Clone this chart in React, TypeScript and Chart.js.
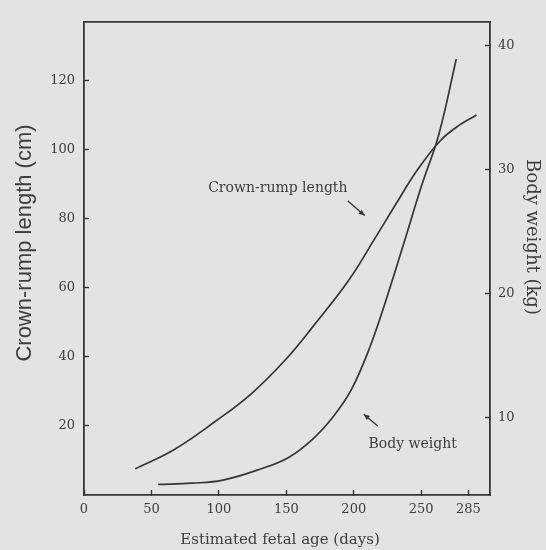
import React, { useEffect, useRef } from 'react';
import { Chart, registerables } from 'chart.js';

Chart.register(...registerables);

// ---- data ----
const xTicks = [0, 50, 100, 150, 200, 250, 285];
const leftTicks = [20, 40, 60, 80, 100, 120];
const rightTicks = [10, 20, 30, 40];

const crlDays = [38, 67, 98, 124, 149, 170, 196, 216, 234, 247, 264, 278, 291];
const crlLength = [7.6, 13.2, 21.5, 29.3, 39, 48.9, 62, 74.5, 86, 94, 102.5, 107, 110];

const bwDays = [55, 80, 103, 131, 152, 170, 185, 198, 211, 224, 237, 250, 263, 276];
const bwWeight = [4.6, 4.7, 4.95, 5.85, 6.8, 8.3, 10.1, 12.2, 15.4, 19.5, 24, 28.6, 32.8, 38.9];

const seriesNames = ['Crown-rump length', 'Body weight'];
// annotation anchors in data space: [day, crown-rump-length units]
const labelAt = [[143.7, 88.9], [243.7, 14.6]];
const arrowFrom = [[195.6, 85.1], [217.8, 20.0]];
const arrowTo = [[208.1, 80.9], [207.4, 23.4]];

const xTitle = 'Estimated fetal age (days)';
const leftTitle = 'Crown-rump length (cm)';
const rightTitle = 'Body weight (kg)';

const INK = '#363636';
const TXT = '#3e3e3e';
const BG = '#e3e3e3';
const SERIF = '"DejaVu Serif", "Liberation Serif", serif';
const SANS = '"Liberation Sans", Arial, sans-serif';

const annotations = {
  id: 'annotations',
  afterDatasetsDraw(chart: any) {
    const { ctx, chartArea, scales } = chart;
    const sx = scales.x;
    const sy = scales.y;
    ctx.save();
    ctx.fillStyle = TXT;
    ctx.strokeStyle = INK;
    ctx.font = `14px ${SERIF}`;
    ctx.textAlign = 'center';
    ctx.textBaseline = 'middle';
    seriesNames.forEach((name, i) => {
      ctx.fillText(name, sx.getPixelForValue(labelAt[i][0]), sy.getPixelForValue(labelAt[i][1]));
      const x1 = sx.getPixelForValue(arrowFrom[i][0]);
      const y1 = sy.getPixelForValue(arrowFrom[i][1]);
      const x2 = sx.getPixelForValue(arrowTo[i][0]);
      const y2 = sy.getPixelForValue(arrowTo[i][1]);
      ctx.lineWidth = 1.4;
      ctx.beginPath();
      ctx.moveTo(x1, y1);
      ctx.lineTo(x2, y2);
      ctx.stroke();
      const a = Math.atan2(y2 - y1, x2 - x1);
      const L = 6, W = 2.6;
      ctx.beginPath();
      ctx.moveTo(x2, y2);
      ctx.lineTo(x2 - L * Math.cos(a) + W * Math.sin(a), y2 - L * Math.sin(a) - W * Math.cos(a));
      ctx.lineTo(x2 - L * Math.cos(a) - W * Math.sin(a), y2 - L * Math.sin(a) + W * Math.cos(a));
      ctx.closePath();
      ctx.fillStyle = INK;
      ctx.fill();
      ctx.fillStyle = TXT;
    });

    // axis titles
    ctx.font = `15px ${SERIF}`;
    ctx.fillText(xTitle, 280, chartArea.bottom + 45);

    ctx.save();
    ctx.translate(chartArea.left - 59, 243);
    ctx.rotate(-Math.PI / 2);
    ctx.font = `22px ${SANS}`;
    ctx.fillText(leftTitle, 0, 0);
    ctx.restore();

    ctx.save();
    ctx.translate(chartArea.right + 42, 237);
    ctx.rotate(Math.PI / 2);
    ctx.font = `18px ${SERIF}`;
    ctx.fillText(rightTitle, 0, 0);
    ctx.restore();

    ctx.restore();
  },
};

export default function App() {
  const ref = useRef<HTMLCanvasElement | null>(null);

  useEffect(() => {
    if (!ref.current) return;
    const tickFont = { family: SERIF, size: 13 };
    const chart = new Chart(ref.current, {
      type: 'line',
      data: {
        datasets: [
          {
            label: seriesNames[0],
            data: crlDays.map((d, i) => ({ x: d, y: crlLength[i] })),
            yAxisID: 'y',
            xAxisID: 'x',
            borderColor: INK,
            borderWidth: 1.7,
            pointRadius: 0,
            tension: 0.4,
            fill: false,
          },
          {
            label: seriesNames[1],
            data: bwDays.map((d, i) => ({ x: d, y: bwWeight[i] })),
            yAxisID: 'y1',
            xAxisID: 'x',
            borderColor: INK,
            borderWidth: 1.7,
            pointRadius: 0,
            tension: 0.4,
            fill: false,
          },
        ],
      },
      options: {
        responsive: false,
        animation: false,
        layout: { padding: 0 },
        plugins: { legend: { display: false }, tooltip: { enabled: false } },
        scales: {
          x: {
            type: 'linear',
            position: 'bottom',
            min: 0,
            max: 301,
            afterBuildTicks: (s: any) => { s.ticks = xTicks.map((v) => ({ value: v })); },
            afterFit: (s: any) => { s.height = 55; },
            grid: { drawOnChartArea: false, drawTicks: true, tickLength: -5, tickColor: INK, tickWidth: 1.4 },
            border: { display: true, color: INK, width: 1.8 },
            ticks: { padding: 12, font: tickFont, color: TXT, maxRotation: 0, autoSkip: false },
          },
          xTop: {
            type: 'linear',
            position: 'top',
            min: 0,
            max: 301,
            afterFit: (s: any) => { s.height = 14; },
            grid: { drawOnChartArea: false, drawTicks: false },
            border: { display: true, color: INK, width: 1.8 },
            ticks: { display: false },
          },
          y: {
            type: 'linear',
            position: 'left',
            min: 0,
            max: 137,
            afterBuildTicks: (s: any) => { s.ticks = leftTicks.map((v) => ({ value: v })); },
            afterFit: (s: any) => { s.width = 84; },
            grid: { drawOnChartArea: false, drawTicks: true, tickLength: -5, tickColor: INK, tickWidth: 1.4 },
            border: { display: true, color: INK, width: 1.8 },
            ticks: { padding: 14, font: tickFont, color: TXT, autoSkip: false },
          },
          y1: {
            type: 'linear',
            position: 'right',
            min: 3.75,
            max: 41.9,
            afterBuildTicks: (s: any) => { s.ticks = rightTicks.map((v) => ({ value: v })); },
            afterFit: (s: any) => { s.width = 56; },
            grid: { drawOnChartArea: false, drawTicks: true, tickLength: -5, tickColor: INK, tickWidth: 1.4 },
            border: { display: true, color: INK, width: 1.8 },
            ticks: { padding: 13, font: tickFont, color: TXT, autoSkip: false },
          },
        },
      },
      plugins: [annotations],
    } as any);
    return () => chart.destroy();
  }, []);

  return (
    <div style={{ position: 'fixed', left: 0, top: 0, width: 546, height: 550, background: BG }}>
      <canvas ref={ref} width={546} height={550} style={{ display: 'block' }} />
    </div>
  );
}
